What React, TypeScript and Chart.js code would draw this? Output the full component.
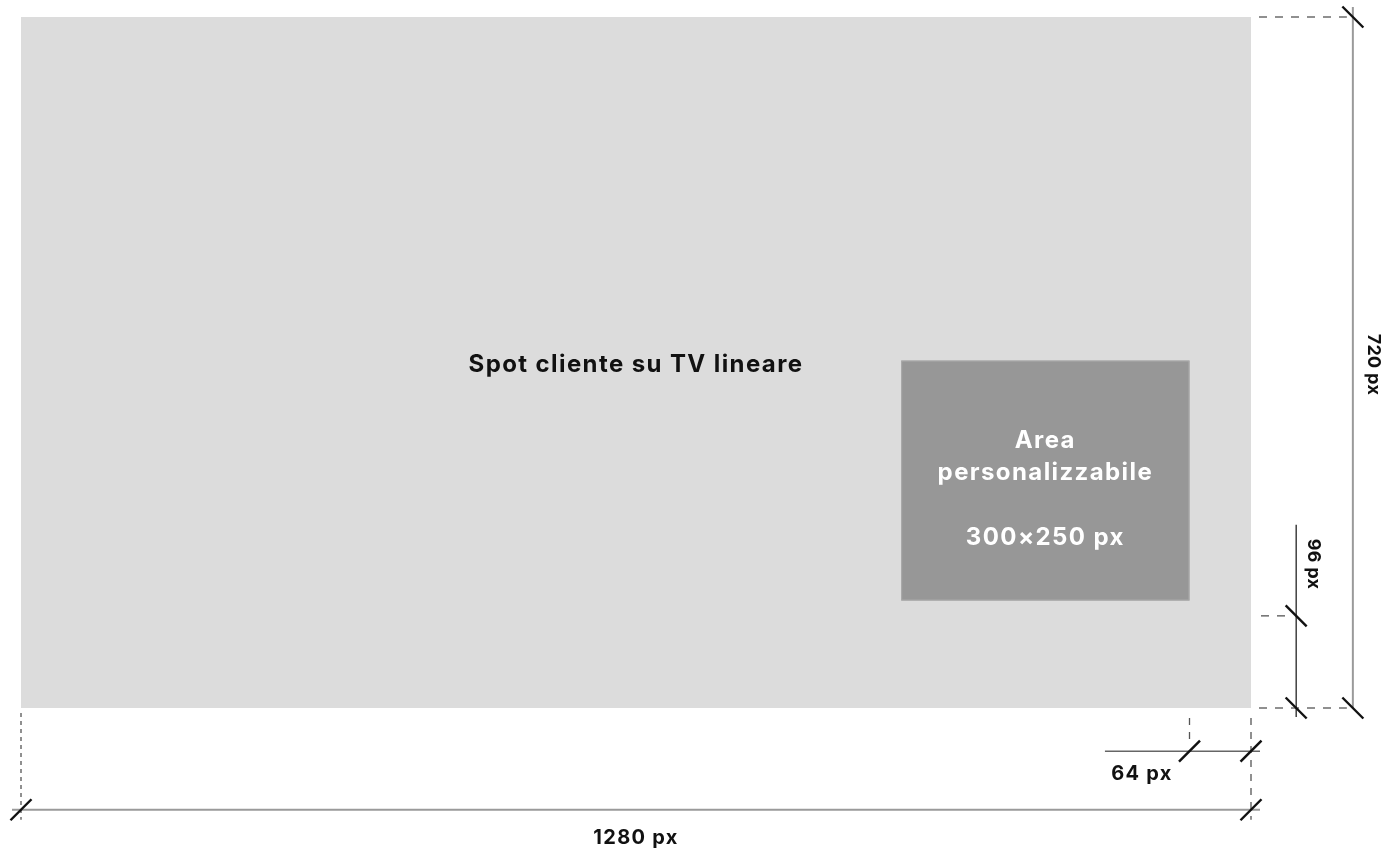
import { useEffect, useRef } from 'react';
import { Chart, registerables } from 'chart.js';

Chart.register(...registerables);

// ---- data (design pixels) ----
const frameSize = [1280, 720];
const frameLabel = 'Spot cliente su TV lineare';
const overlayOrigin = [916, 358];
const overlaySize = [300, 250];
const overlayMargins = [64, 96];
const overlayLines = ['Area', 'personalizzabile', '', '300×250 px'];
const dimensionLabels = ['1280 px', '720 px', '64 px', '96 px'];

// ---- layout (design-space offsets for the dimension lines) ----
const DIM = {
  rightX: 1386,
  marginX: 1327,
  marginLineY: 765,
  bottomY: 826,
};

const FONT = 'Inter, "Noto Sans", sans-serif';

function tick(ctx: CanvasRenderingContext2D, x: number, y: number, dir: 'back' | 'fwd') {
  ctx.save();
  ctx.strokeStyle = '#111';
  ctx.lineWidth = 2.4;
  ctx.setLineDash([]);
  ctx.beginPath();
  if (dir === 'back') {
    ctx.moveTo(x - 10.5, y - 10.5);
    ctx.lineTo(x + 10.5, y + 10.5);
  } else {
    ctx.moveTo(x - 10.5, y + 10.5);
    ctx.lineTo(x + 10.5, y - 10.5);
  }
  ctx.stroke();
  ctx.restore();
}

function line(ctx: CanvasRenderingContext2D, x1: number, y1: number, x2: number, y2: number, color: string, width: number, dash: number[] = []) {
  ctx.save();
  ctx.strokeStyle = color;
  ctx.lineWidth = width;
  ctx.setLineDash(dash);
  ctx.beginPath();
  ctx.moveTo(x1, y1);
  ctx.lineTo(x2, y2);
  ctx.stroke();
  ctx.restore();
}

function setSpacing(ctx: any, v: string) {
  if ('letterSpacing' in ctx) ctx.letterSpacing = v;
}

const diagramPlugin = {
  id: 'diagram',
  beforeDatasetsDraw(chart: any) {
    const { ctx } = chart;
    const xs = chart.scales.x;
    const ys = chart.scales.y;
    const px = (v: number) => xs.getPixelForValue(v);
    const py = (v: number) => ys.getPixelForValue(v);
    const [W, H] = frameSize;

    ctx.save();
    // frame
    ctx.fillStyle = '#dcdcdc';
    ctx.fillRect(px(0), py(0), px(W) - px(0), py(H) - py(0));

    // overlay box
    const ox0 = px(overlayOrigin[0]);
    const oy0 = py(overlayOrigin[1]);
    const ox1 = px(overlayOrigin[0] + overlaySize[0]);
    const oy1 = py(overlayOrigin[1] + overlaySize[1]);
    ctx.fillStyle = '#979797';
    ctx.fillRect(ox0, oy0, ox1 - ox0, oy1 - oy0);
    ctx.strokeStyle = '#aaaaaa';
    ctx.lineWidth = 1;
    ctx.strokeRect(ox0 + 0.5, oy0 + 0.5, ox1 - ox0 - 1, oy1 - oy0 - 1);

    // frame label
    ctx.fillStyle = '#111';
    ctx.font = `bold 24px ${FONT}`;
    setSpacing(ctx, '1.4px');
    ctx.textAlign = 'center';
    ctx.textBaseline = 'middle';
    ctx.fillText(frameLabel, (px(0) + px(W)) / 2, (py(0) + py(H)) / 2 + 2);

    // overlay text
    ctx.fillStyle = '#ffffff';
    ctx.font = `bold 24px ${FONT}`;
    const cx = (ox0 + ox1) / 2;
    const startY = oy0 + 80;
    overlayLines.forEach((t, i) => {
      if (t) ctx.fillText(t, cx, startY + i * 32.5);
    });

    // ---- dimension: 720 px (right) ----
    const rx = px(DIM.rightX);
    line(ctx, rx, py(0) - 10, rx, py(H), '#9a9a9a', 2);
    line(ctx, px(W) + 8, py(0), rx - 6, py(0), '#555', 1.3, [8, 8]);
    line(ctx, px(W) + 8, py(H), rx - 6, py(H), '#555', 1.3, [8, 8]);
    tick(ctx, rx, py(0), 'back');
    tick(ctx, rx, py(H), 'back');

    // ---- dimension: 96 px (bottom margin) ----
    const mx = px(DIM.marginX);
    const mTop = py(H - overlayMargins[1]);
    line(ctx, mx, py(529), mx, py(H) + 9, '#111', 1.2);
    line(ctx, px(W) + 10, mTop, mx - 6, mTop, '#555', 1.3, [8, 8]);
    tick(ctx, mx, mTop, 'back');
    tick(ctx, mx, py(H), 'back');

    // ---- dimension: 64 px (right margin) ----
    const my = py(DIM.marginLineY);
    const mLeft = px(W - overlayMargins[0]);
    line(ctx, px(1128), my, px(W) + 9, my, '#666', 1.6);
    line(ctx, mLeft, py(H) + 10, mLeft, my - 6, '#555', 1.3, [7, 7]);
    line(ctx, px(W), py(H) + 10, px(W), py(DIM.bottomY) + 10, '#555', 1.3, [7, 7]);
    tick(ctx, mLeft, my, 'fwd');
    tick(ctx, px(W), my, 'fwd');

    // ---- dimension: 1280 px (bottom) ----
    const by = py(DIM.bottomY);
    line(ctx, px(0) - 9, by, px(W) + 9, by, '#9a9a9a', 2);
    line(ctx, px(0), py(H) + 5, px(0), by + 10, '#555', 1.3, [4, 4]);
    tick(ctx, px(0), by, 'fwd');
    tick(ctx, px(W), by, 'fwd');

    // labels
    ctx.fillStyle = '#111';
    ctx.font = `bold 20px ${FONT}`;
    setSpacing(ctx, '1.3px');
    ctx.textAlign = 'center';
    ctx.textBaseline = 'middle';
    ctx.fillText(dimensionLabels[0], (px(0) + px(W)) / 2, by + 28);
    ctx.fillText(dimensionLabels[2], px(1128) + 37, my + 23);

    ctx.font = `bold 18px ${FONT}`;
    setSpacing(ctx, '0.3px');
    ctx.save();
    ctx.translate(rx + 21, py(362));
    ctx.rotate(Math.PI / 2);
    ctx.fillText(dimensionLabels[1], 0, 0);
    ctx.restore();

    ctx.save();
    ctx.translate(mx + 17, py(570));
    ctx.rotate(Math.PI / 2);
    ctx.fillText(dimensionLabels[3], 0, 0);
    ctx.restore();

    setSpacing(ctx, '0px');
    ctx.restore();
  },
};

export default function App() {
  const ref = useRef<HTMLCanvasElement | null>(null);

  useEffect(() => {
    if (!ref.current) return;
    const chart = new Chart(ref.current, {
      type: 'scatter',
      data: {
        datasets: [
          {
            label: frameLabel,
            data: [
              { x: 0, y: 0 },
              { x: frameSize[0], y: frameSize[1] },
            ],
            pointRadius: 0,
            showLine: false,
          },
        ],
      },
      options: {
        animation: false,
        responsive: true,
        maintainAspectRatio: false,
        events: [],
        layout: { padding: { left: 21, top: 17, right: 138, bottom: 146 } },
        plugins: { legend: { display: false }, tooltip: { enabled: false }, title: { display: false } },
        scales: {
          x: { type: 'linear', min: 0, max: frameSize[0], display: false },
          y: { type: 'linear', min: 0, max: frameSize[1], reverse: true, display: false },
        },
      },
      plugins: [diagramPlugin],
    });
    return () => chart.destroy();
  }, []);

  return (
    <div style={{ position: 'fixed', left: 0, top: 0, width: 1389, height: 854, background: '#fff' }}>
      <canvas ref={ref} />
    </div>
  );
}
